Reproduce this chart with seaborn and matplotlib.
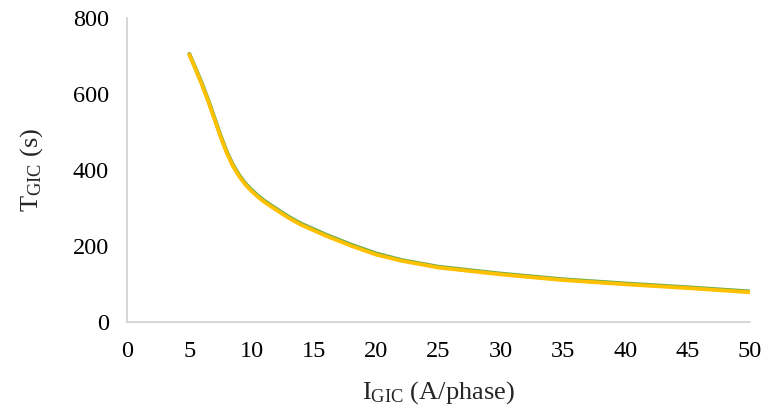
import seaborn as sns
import matplotlib.pyplot as plt
import pandas as pd

# values
i_gic = [5, 5.5, 6, 6.5, 7, 7.5, 8, 8.5, 9, 9.5, 10, 10.5, 11, 12, 13, 14, 16, 18, 20, 22, 25, 30, 35, 40, 45, 50]
t_gic = [703, 665, 625, 582, 535, 488, 445, 410, 383, 361, 344, 329, 316, 294, 273, 255, 226, 200, 177, 161, 143, 125, 110, 99, 89, 78]
t_gic_green = [705, 667, 628, 585, 538, 491, 448, 413, 386, 364, 347, 332, 319, 297, 276, 258, 229, 203, 180, 163, 145, 127, 112, 101, 91, 80]

x_ticks = list(range(0, 55, 5))
y_ticks = [0, 200, 400, 600, 800]

df = pd.DataFrame({"I": i_gic, "T": t_gic, "Tg": t_gic_green})

sns.set_style("white")
plt.rcParams["font.family"] = ["Liberation Serif", "DejaVu Serif"]
plt.rcParams["mathtext.fontset"] = "custom"
plt.rcParams["mathtext.rm"] = "Liberation Serif"

fig = plt.figure(figsize=(7.7, 4.07), dpi=100)
ax = fig.add_axes([0.165, 0.209, 0.809, 0.747])

sns.lineplot(data=df, x="I", y="Tg", ax=ax, color="#70AD47", linewidth=2.9)
sns.lineplot(data=df, x="I", y="T", ax=ax, color="#FFC000", linewidth=2.7)

ax.set_xlim(0, 50)
ax.set_ylim(0, 800)
ax.set_xticks(x_ticks)
ax.set_yticks(y_ticks)
ax.tick_params(axis="both", length=0, labelsize=17.5, colors="black")
ax.tick_params(axis="x", pad=14)
ax.tick_params(axis="y", pad=13)

for side in ["top", "right"]:
    ax.spines[side].set_visible(False)
for side in ["left", "bottom"]:
    ax.spines[side].set_color("#D0D0D0")
    ax.spines[side].set_linewidth(1.2)

ax.set_xlabel(r"$\mathregular{I_{GIC}}$ (A/phase)", fontsize=19, labelpad=12)
ax.set_ylabel(r"$\mathregular{T_{GIC}}$ (s)", fontsize=19, labelpad=20)

fig.savefig("out.png", dpi=100)
